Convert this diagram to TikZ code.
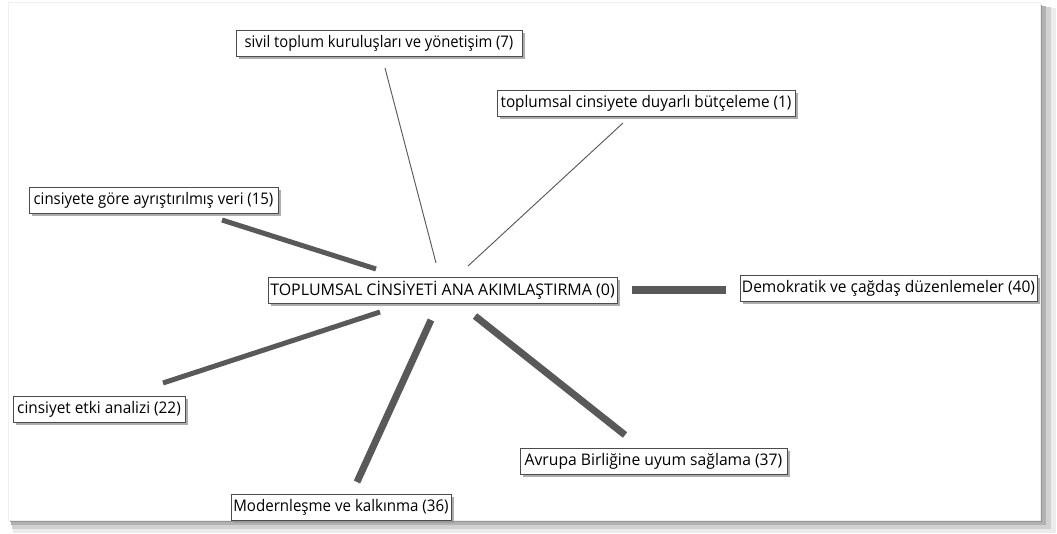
\documentclass[tikz,border=0pt]{standalone}
\usepackage{fontspec}
\usepackage{graphicx}
\setmainfont{Open Sans}
\usetikzlibrary{shadows}
\newcommand{\hsq}[2]{\scalebox{#1}[1]{#2}}
\begin{document}
\begin{tikzpicture}[x=0.75pt,y=-0.75pt,
  lbl/.style={draw=black!70, line width=0.6pt, fill=white, inner xsep=1.5pt, inner ysep=1pt,
    minimum height=19.5pt, minimum width=#1*0.75pt,
    font=\fontsize{12}{14}\selectfont, text=black,
    drop shadow={shadow xshift=2.2pt, shadow yshift=-2.2pt, fill=black!40, opacity=0.8}},
  thin link/.style={draw=black!65, line width=0.7pt},
  link/.style={draw=black!65, line width=#1*0.75pt}]
\useasboundingbox (0,0) rectangle (1057,534);
\fill[white] (0,0) rectangle (1057,534);
% frame with shadow
\fill[black!8] (13,8) rectangle (1056,533);
\fill[black!18] (12,7) rectangle (1051,529);
\fill[black!30] (11,6) rectangle (1046,525);
\fill[black!42] (10,5) rectangle (1042,522);
\filldraw[fill=white, draw=black!6] (8,2) rectangle (1040,520);

\node[lbl=286] (sivil) at (379,43) {\hsq{0.925}{sivil toplum kuruluşları ve yönetişim (7)}};
\node[lbl=298] (butce) at (646,103) {\hsq{0.955}{toplumsal cinsiyete duyarlı bütçeleme (1)}};
\node[lbl=249] (veri) at (153.5,200) {\hsq{0.935}{cinsiyete göre ayrıştırılmış veri (15)}};
\node[lbl=349] (center) at (442.5,290) {TOPLUMSAL CİNSİYETİ ANA AKIMLAŞTIRMA (0)};
\node[lbl=297] (demo) at (888.5,288.5) {\hsq{0.97}{Demokratik ve çağdaş düzenlemeler (40)}};
\node[lbl=172] (etki) at (99,409) {\hsq{0.96}{cinsiyet etki analizi (22)}};
\node[lbl=267] (ab) at (653.5,461.5) {\hsq{0.98}{Avrupa Birliğine uyum sağlama (37)}};
\node[lbl=220] (mod) at (341,507.5) {\hsq{0.943}{Modernleşme ve kalkınma (36)}};

\coordinate (c1) at (436,263); \coordinate (s1) at (385,68);
\coordinate (c2) at (468,266); \coordinate (s2) at (623,123);
\coordinate (c3) at (376,269); \coordinate (s3) at (222,220);
\coordinate (c4) at (632,290); \coordinate (s4) at (726,290);
\coordinate (c5) at (380,312); \coordinate (s5) at (163,383);
\coordinate (c6) at (431,320); \coordinate (s6) at (357,482);
\coordinate (c7) at (475,316); \coordinate (s7) at (625,435);

\draw[thin link] (c1) -- (s1);
\draw[thin link] (c2) -- (s2);
\draw[link=5] (c3) -- (s3);
\draw[link=8] (c4) -- (s4);
\draw[link=5] (c5) -- (s5);
\draw[link=7] (c6) -- (s6);
\draw[link=7] (c7) -- (s7);
\end{tikzpicture}
\end{document}
